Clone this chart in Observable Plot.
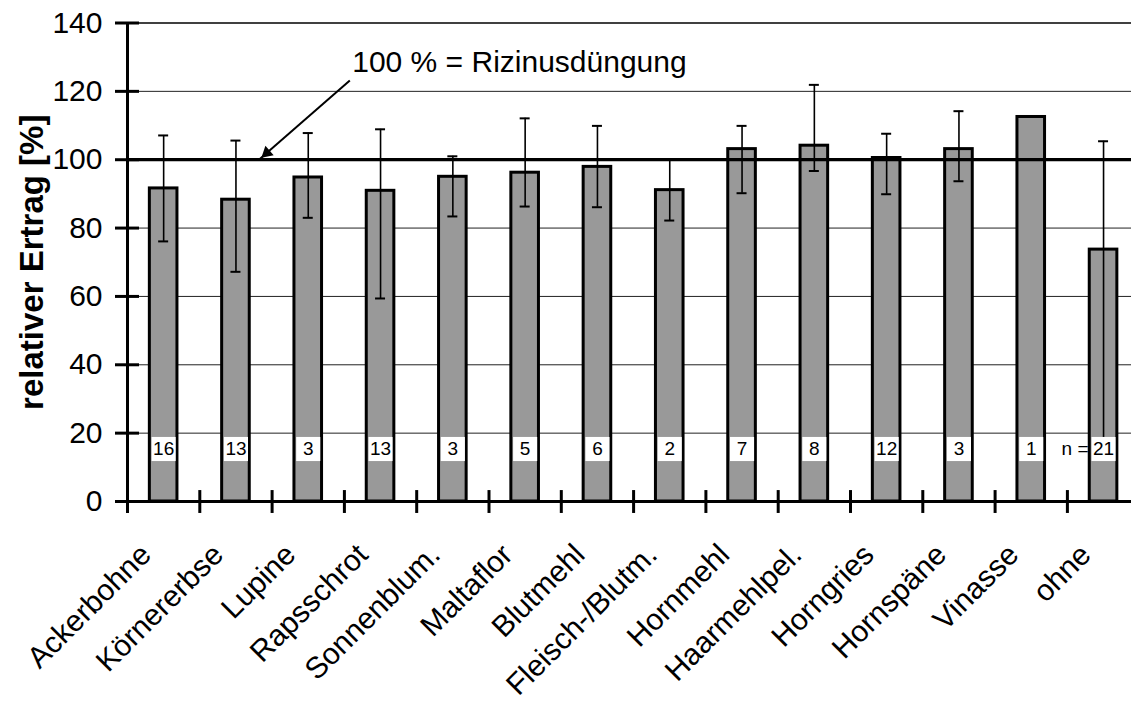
<!DOCTYPE html>
<html><head><meta charset="utf-8">
<script src="https://cdn.jsdelivr.net/npm/d3@7"></script>
<script src="https://cdn.jsdelivr.net/npm/@observablehq/plot@0.6"></script>
<style>
html,body{margin:0;padding:0;background:#fff;overflow:hidden;}
#chart svg{display:block;}
</style></head><body><div id="chart"></div>
<script>
// ---- data ----
const categories = ["Ackerbohne","Körnererbse","Lupine","Rapsschrot","Sonnenblum.","Maltaflor","Blutmehl","Fleisch-/Blutm.","Hornmehl","Haarmehlpel.","Horngries","Hornspäne","Vinasse","ohne"];
const relYield = [91.6, 88.3, 94.8, 90.9, 95.0, 96.2, 97.9, 91.1, 103.1, 104.1, 100.5, 103.1, 112.5, 73.7];
const errHigh  = [107.1, 105.6, 107.8, 108.9, 101.0, 112.1, 109.9, 100.0, 109.9, 121.9, 107.6, 114.2, null, 105.4];
const errLow   = [76.1, 67.2, 83.0, 59.4, 83.4, 86.3, 86.1, 82.2, 90.2, 96.7, 89.9, 93.7, null, 16.0];
const nCounts  = [16, 13, 3, 13, 3, 5, 6, 2, 7, 8, 12, 3, 1, 21];
const yTicks = [0, 20, 40, 60, 80, 100, 120, 140];
const referenceValue = [100];
const yTitle = "relativer Ertrag [%]";
const annotationLabel = "100 % = Rizinusdüngung";
const annotationText = [{x: 3.108, y: 125.8}];
const annotationArrow = [{x1: 3.075, y1: 123.2, x2: 1.83, y2: 100.2}];
const nLabelValue = 15.36;

// ---- layout ----
const W = 1131, H = 702;
const plotLeft = 127, plotRightX = 1139.2, plotTop = 22.5, plotBottom = 501;
const bw = (plotRightX - plotLeft) / categories.length;   // px per category
const ppu = (plotBottom - plotTop) / 140;                  // px per y unit
const barInset = (bw - 27.6) / 2;
const capHalf = 5 / bw;
const tickHalf = 12 / bw;

const rows = categories.map((name, i) => ({
  name, i, c: i + 0.5, value: relYield[i], hi: errHigh[i], lo: errLow[i], n: nCounts[i]
}));
const errRows = rows.filter(d => d.hi != null);

// arrow head geometry (pixel direction)
const arrowHead = annotationArrow.map(a => {
  const px = (a.x2 - a.x1) * bw, py = -(a.y2 - a.y1) * ppu;
  const len = Math.hypot(px, py), ux = px / len, uy = py / len;
  return {...a, angle: Math.atan2(py, px) * 180 / Math.PI + 90, ox: -ux * 9.3, oy: -uy * 9.3};
});

const font = "Liberation Sans, Arial, Helvetica, sans-serif";

const chart = Plot.plot({
  width: W, height: H,
  marginLeft: plotLeft, marginRight: 0, marginTop: plotTop, marginBottom: H - plotBottom,
  style: {fontFamily: font, background: "white", color: "black"},
  x: {type: "linear", domain: [0, categories.length], range: [plotLeft, plotRightX], axis: null},
  y: {domain: [0, 140], range: [plotBottom, plotTop], axis: null},
  marks: [
    Plot.ruleY(yTicks.filter(t => t > 0 && t < 140), {y: d => d, stroke: "#222", strokeWidth: 1}),
    Plot.ruleY([140], {y: d => d, stroke: "#000", strokeWidth: 1.5}),
    Plot.rect(rows, {x1: d => d.i, x2: d => d.i + 1, y1: () => 0, y2: "value",
      insetLeft: barInset, insetRight: barInset, fill: "#999999", stroke: "#000", strokeWidth: 3}),
    Plot.ruleX(errRows, {x: "c", y1: "lo", y2: "hi", stroke: "#000", strokeWidth: 1.6}),
    Plot.ruleY(errRows, {y: "hi", x1: d => d.c - capHalf, x2: d => d.c + capHalf, stroke: "#000", strokeWidth: 2}),
    Plot.ruleY(errRows, {y: "lo", x1: d => d.c - capHalf, x2: d => d.c + capHalf, stroke: "#000", strokeWidth: 2}),
    Plot.ruleY(referenceValue, {y: d => d, stroke: "#000", strokeWidth: 3.3}),
    Plot.dot(rows, {x: "c", y: () => nLabelValue, symbol: "square", r: 13.6, fill: "white", stroke: "none"}),
    Plot.text(rows, {x: "c", y: () => nLabelValue, text: d => String(d.n), fontSize: 19, fill: "#000"}),
    Plot.text(rows.filter(d => d.name === "ohne"), {x: "c", y: () => nLabelValue, text: () => "n =",
      textAnchor: "end", dx: -15, fontSize: 19, fill: "#000"}),
    Plot.ruleY([0], {y: d => d, stroke: "#000", strokeWidth: 3}),
    Plot.ruleX([0], {x: d => d, y1: () => -3.5, y2: () => 140, stroke: "#000", strokeWidth: 3}),
    Plot.ruleX(d3.range(1, categories.length + 1), {x: d => d, y1: () => -3.5, y2: () => 3.2, stroke: "#000", strokeWidth: 3}),
    Plot.ruleY(yTicks, {y: d => d, x1: () => -tickHalf, x2: () => tickHalf, stroke: "#000", strokeWidth: 3}),
    Plot.text(yTicks, {x: () => 0, y: d => d, text: d => String(d), textAnchor: "end", dx: -25, fontSize: 30, fill: "#000"}),
    Plot.text(rows, {x: "c", y: () => 0, text: "name", rotate: -45, textAnchor: "end", lineAnchor: "top",
      dx: -26, dy: 40, fontSize: 30, fill: "#000"}),
    Plot.text([yTitle], {frameAnchor: "left", text: d => d, rotate: -90, textAnchor: "middle", lineAnchor: "bottom",
      dx: -85, fontSize: 33, fontWeight: "bold", fill: "#000"}),
    Plot.text(annotationText, {x: "x", y: "y", text: () => annotationLabel, textAnchor: "start", lineAnchor: "bottom",
      fontSize: 30, fill: "#000"}),
    Plot.link(annotationArrow, {x1: "x1", y1: "y1", x2: "x2", y2: "y2", stroke: "#000", strokeWidth: 2}),
    Plot.dot(arrowHead, {x: "x2", y: "y2", symbol: "triangle2", r: 6, fill: "#000", stroke: "none",
      rotate: "angle", dx: arrowHead[0].ox, dy: arrowHead[0].oy})
  ]
});
document.getElementById("chart").appendChild(chart);
</script>
</body></html>
